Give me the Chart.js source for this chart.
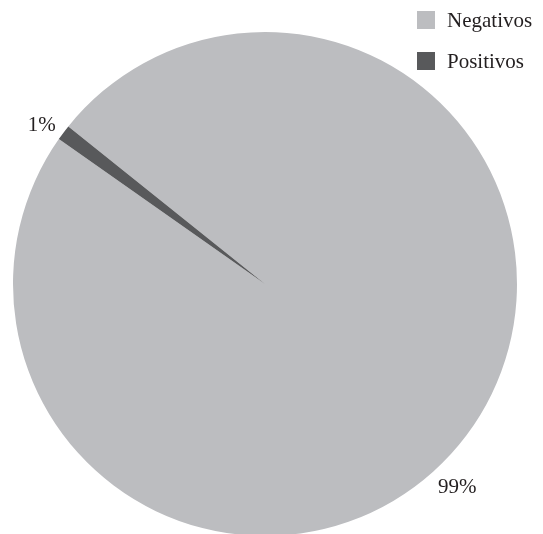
<!DOCTYPE html>
<html><head><meta charset="utf-8">
<script src="https://cdn.jsdelivr.net/npm/chart.js@4/dist/chart.umd.min.js"></script>
<style>html,body{margin:0;padding:0;background:#fff;overflow:hidden}#wrap{width:543px;height:536px;position:relative}</style>
</head><body><div id="wrap"><canvas id="c"></canvas></div>
<script>
const categories = ["Negativos", "Positivos"];
const values = [99, 1];
const valueLabels = ["99%", "1%"];
const colors = ["#bcbdc0", "#58595b"];

const FONT = '21px "Liberation Serif", "Times New Roman", serif';

const labelPlugin = {
  id: 'sliceLabels',
  afterDatasetsDraw(chart) {
    const ctx = chart.ctx;
    const meta = chart.getDatasetMeta(0);
    const angleShift = [0.17, -0.025]; // radians offset from arc middle
    const extra = [28, 22];
    ctx.save();
    ctx.font = FONT;
    ctx.fillStyle = '#231f20';
    ctx.textAlign = 'center';
    ctx.textBaseline = 'middle';
    meta.data.forEach((arc, i) => {
      const p = arc.getProps(['x','y','startAngle','endAngle','outerRadius'], true);
      const a = (p.startAngle + p.endAngle) / 2 + angleShift[i];
      const r = p.outerRadius + extra[i];
      ctx.fillText(valueLabels[i], p.x + Math.cos(a) * r, p.y + Math.sin(a) * r);
    });
    ctx.restore();
  }
};

const legendPlugin = {
  id: 'customLegend',
  afterDraw(chart) {
    const ctx = chart.ctx;
    ctx.save();
    ctx.font = FONT;
    ctx.textBaseline = 'middle';
    ctx.textAlign = 'left';
    categories.forEach((c, i) => {
      const y = 20 + i * 41;
      ctx.fillStyle = colors[i];
      ctx.fillRect(417, y - 9, 18, 18);
      ctx.fillStyle = '#231f20';
      ctx.fillText(c, 447, y + 1);
    });
    ctx.restore();
  }
};

new Chart(document.getElementById('c'), {
  type: 'pie',
  data: {
    labels: categories,
    datasets: [{ data: values, backgroundColor: colors, borderWidth: 0 }]
  },
  options: {
    responsive: true,
    maintainAspectRatio: false,
    animation: false,
    rotation: -51.3,
    layout: { padding: { left: 13, right: 26, top: 32, bottom: 0 } },
    plugins: { legend: { display: false }, tooltip: { enabled: false } }
  },
  plugins: [labelPlugin, legendPlugin]
});
</script></body></html>
